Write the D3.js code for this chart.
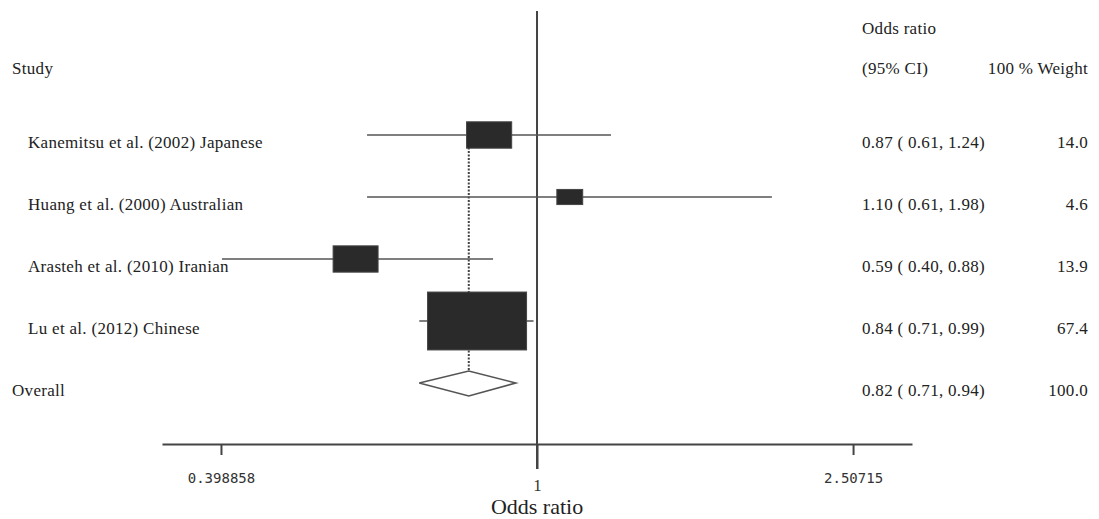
<!DOCTYPE html>
<html>
<head>
<meta charset="utf-8">
<script src="https://cdn.jsdelivr.net/npm/d3@7"></script>
<style>
  html, body { margin: 0; padding: 0; background: #fff; }
  svg { display: block; }
</style>
</head>
<body>
<svg id="chart" width="1099" height="519"></svg>
<script>
// ---- data ----
const studies = [
  "Kanemitsu et al. (2002) Japanese",
  "Huang et al. (2000) Australian",
  "Arasteh et al. (2010) Iranian",
  "Lu et al. (2012) Chinese"
];
const orValues = [0.87, 1.10, 0.59, 0.84];
const ciLower  = [0.61, 0.61, 0.40, 0.71];
const ciUpper  = [1.24, 1.98, 0.88, 0.99];
const weights  = [14.0, 4.6, 13.9, 67.4];
const overallLabel = "Overall";
const overallOR = 0.82, overallLower = 0.71, overallUpper = 0.94, overallWeight = 100.0;
const tickValues = [0.398858, 1, 2.50715];
const tickLabels = ["0.398858", "1", "2.50715"];
const axisDomain = [0.336, 2.976];

const svg = d3.select("#chart");
const serif = "'Liberation Serif', 'Times New Roman', serif";
const mono = "'DejaVu Sans Mono', monospace";
const FS = 17, LS = 0.3, TXT = "#222";

function txt(sel) {
  return sel.attr("font-family", serif).attr("font-size", FS)
    .attr("letter-spacing", LS).attr("fill", TXT);
}

const x = d3.scaleLog().domain(axisDomain).range([162, 912]);
const rows = studies.concat([overallLabel]);
const y = d3.scalePoint().domain(rows).range([135, 383]);
const boxW = d3.scaleSqrt().domain([0, d3.max(weights)]).range([0, 99]);
const aspect = 1.71;

const fmt2 = d3.format(".2f");
const fmt1 = d3.format(".1f");
const ciText = (o, l, u) => `${fmt2(o)} ( ${fmt2(l)}, ${fmt2(u)})`;

// headers
txt(svg.append("text").attr("x", 12).attr("y", 74).text("Study"));
txt(svg.append("text").attr("x", 862).attr("y", 34).text("Odds ratio"));
txt(svg.append("text").attr("x", 862).attr("y", 74).text("(95% CI)"));
txt(svg.append("text").attr("x", 1088).attr("y", 74).attr("text-anchor", "end").text("100 % Weight"));

// dotted overall line
svg.append("line")
  .attr("x1", x(overallOR)).attr("x2", x(overallOR))
  .attr("y1", y(studies[0]) - 12).attr("y2", y(overallLabel))
  .attr("stroke", "#444").attr("stroke-width", 2).attr("stroke-dasharray", "2,1.5");

// reference line at 1
svg.append("line")
  .attr("x1", x(1)).attr("x2", x(1))
  .attr("y1", 11).attr("y2", 469)
  .attr("stroke", "#444").attr("stroke-width", 2);

const data = studies.map((s, i) => ({ s, or: orValues[i], lo: ciLower[i], hi: ciUpper[i], w: weights[i] }));

// CI lines
svg.selectAll("line.ci").data(data).enter().append("line")
  .attr("class", "ci")
  .attr("x1", d => x(d.lo)).attr("x2", d => x(d.hi))
  .attr("y1", d => y(d.s)).attr("y2", d => y(d.s))
  .attr("stroke", "#555").attr("stroke-width", 1.6);

// boxes
svg.selectAll("rect.box").data(data).enter().append("rect")
  .attr("class", "box")
  .attr("x", d => x(d.or) - boxW(d.w) / 2)
  .attr("y", d => y(d.s) - boxW(d.w) / aspect / 2)
  .attr("width", d => boxW(d.w))
  .attr("height", d => boxW(d.w) / aspect)
  .attr("fill", "#2a2a2a").attr("stroke", "#444").attr("stroke-width", 1);

// diamond
const yo = y(overallLabel);
svg.append("path")
  .attr("d", `M${x(overallLower)},${yo} L${x(overallOR)},${yo - 12} L${x(overallUpper)},${yo} L${x(overallOR)},${yo + 13} Z`)
  .attr("fill", "#fff").attr("stroke", "#555").attr("stroke-width", 1.6);

// study labels
txt(svg.selectAll("text.study").data(data).enter().append("text")
  .attr("class", "study")
  .attr("x", 28).attr("y", d => y(d.s) + 13)
  .text(d => d.s));
txt(svg.append("text").attr("x", 12).attr("y", yo + 13).text(overallLabel));

// OR (CI) column
txt(svg.selectAll("text.orci").data(data).enter().append("text")
  .attr("class", "orci")
  .attr("x", 862).attr("y", d => y(d.s) + 13)
  .text(d => ciText(d.or, d.lo, d.hi)));
txt(svg.append("text").attr("x", 862).attr("y", yo + 13)
  .text(ciText(overallOR, overallLower, overallUpper)));

// weight column
txt(svg.selectAll("text.wt").data(data).enter().append("text")
  .attr("class", "wt")
  .attr("x", 1088).attr("y", d => y(d.s) + 13).attr("text-anchor", "end")
  .text(d => fmt1(d.w)));
txt(svg.append("text").attr("x", 1088).attr("y", yo + 13).attr("text-anchor", "end")
  .text(fmt1(overallWeight)));

// x axis
const axis = d3.axisBottom(x)
  .tickValues(tickValues)
  .tickFormat((d, i) => tickLabels[i])
  .tickSize(11)
  .tickSizeOuter(0);
const gAxis = svg.append("g").attr("transform", "translate(0,444)").call(axis);
gAxis.select(".domain").attr("stroke", "#444").attr("stroke-width", 2.2);
gAxis.selectAll(".tick line").attr("stroke", "#444").attr("stroke-width", 2);
gAxis.selectAll(".tick text")
  .attr("fill", "#333")
  .attr("font-family", mono).attr("font-size", 14)
  .attr("y", 34).attr("dy", "0.35em");
gAxis.selectAll(".tick").filter(d => d === 1).each(function () {
  const t = d3.select(this);
  t.select("line").attr("y2", 25);
  t.select("text").attr("font-family", serif).attr("font-size", 17).attr("y", 41);
});

svg.append("text").attr("x", x(1)).attr("y", 514).attr("text-anchor", "middle")
  .text("Odds ratio")
  .attr("font-family", serif).attr("font-size", 22).attr("fill", "#222");
</script>
</body>
</html>
